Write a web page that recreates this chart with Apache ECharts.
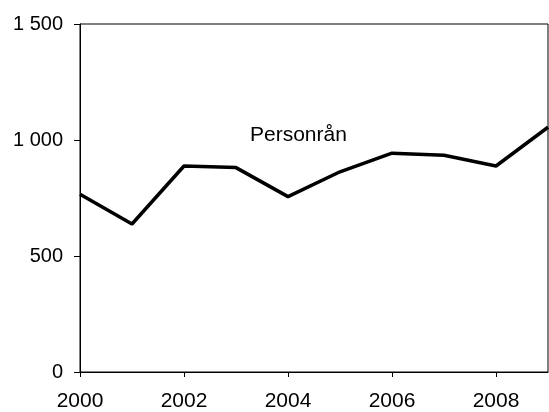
<!DOCTYPE html>
<html><head><meta charset="utf-8">
<script src="https://cdn.jsdelivr.net/npm/echarts@6/dist/echarts.min.js"></script>
<style>html,body{margin:0;padding:0;background:#fff}#c{width:549px;height:412px}</style>
</head><body><div id="c"></div>
<script>
const years = ['2000','2001','2002','2003','2004','2005','2006','2007','2008','2009'];
const personran = [766, 638, 888, 881, 756, 863, 943, 934, 888, 1055];
const yTicks = [0, 500, 1000, 1500];
const seriesName = 'Personrån';

const chart = echarts.init(document.getElementById('c'), null, {renderer:'canvas'});
const font = '"Liberation Sans", Arial, sans-serif';
chart.setOption({
  animation: false,
  backgroundColor: '#fff',
  grid: {left: 80, right: 1, top: 24, bottom: 40, show: true, borderColor: '#000', borderWidth: 1, backgroundColor: 'transparent'},
  xAxis: {
    type: 'category', data: years, boundaryGap: false,
    axisLine: {lineStyle: {color: '#000', width: 1}},
    axisTick: {show: true, interval: 1, length: 5, lineStyle: {color: '#000'}},
    axisLabel: {interval: 1, color: '#000', fontFamily: font, fontSize: 21, margin: 19},
    splitLine: {show: false}
  },
  yAxis: {
    type: 'value', min: yTicks[0], max: yTicks[yTicks.length-1], interval: 500,
    axisLine: {show: true, lineStyle: {color: '#000', width: 1}},
    axisTick: {show: true, length: 6, lineStyle: {color: '#000'}},
    axisLabel: {color: '#000', fontFamily: font, fontSize: 20, margin: 17,
      formatter: v => v >= 1000 ? Math.floor(v/1000) + ' ' + String(v%1000).padStart(3,'0') : String(v)},
    splitLine: {show: false}
  },
  series: [{
    name: seriesName, type: 'line', data: personran, symbol: 'none',
    lineStyle: {color: '#000', width: 3.5}
  }],
  graphic: [{
    type: 'text', left: 250, top: 125,
    style: {text: seriesName, fill: '#000', font: '21px "Liberation Sans", Arial, sans-serif'}
  }]
});
</script></body></html>
